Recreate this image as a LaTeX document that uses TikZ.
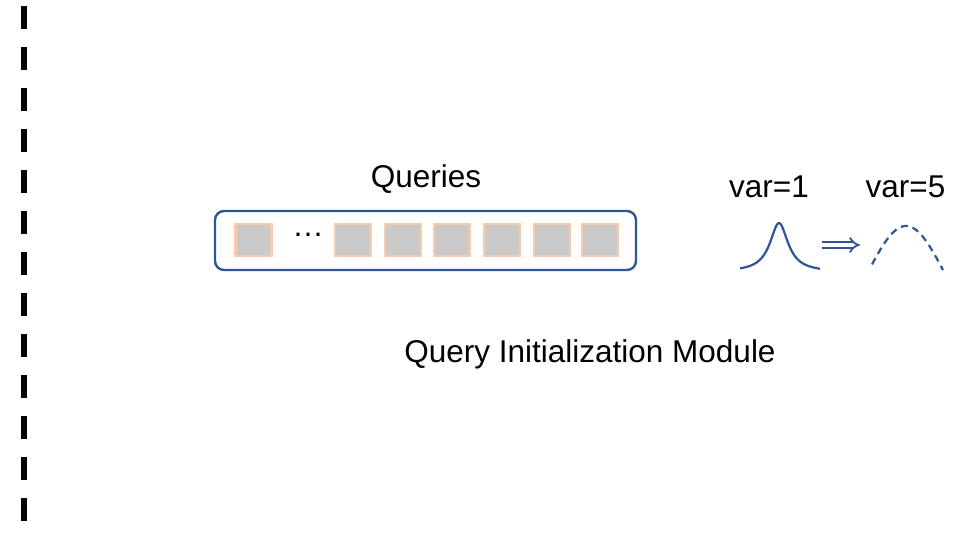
\documentclass[tikz,border=0pt]{standalone}
\usepackage{fontspec}
\setmainfont{Liberation Sans}
\usepackage{xcolor}
\usepackage{tikz}
\usetikzlibrary{arrows.meta,positioning}
\definecolor{qblue}{HTML}{2F5597}
\definecolor{qpeach}{HTML}{F8CBAD}
\definecolor{qgray}{HTML}{C9C9C9}
\tikzset{
  q label/.style={
    font=\fontsize{31.5}{38}\selectfont,
    inner sep=0pt,
    anchor=base,
  },
  q slot/.style={
    rectangle,
    minimum width=36pt,
    minimum height=32pt,
    line width=2.4pt,
    draw=qpeach,
    fill=qgray,
    inner sep=0pt,
  },
  q frame/.style={
    rectangle,
    rounded corners=9pt,
    line width=2.4pt,
    draw=qblue,
  },
  q curve/.style={qblue, line width=2.2pt},
}

\begin{document}
\begin{tikzpicture}[x=1pt,y=-1pt]
  \useasboundingbox (0,0) rectangle (964,534);

  % dashed divider
  \draw[line width=6pt, dash pattern=on 23pt off 18pt] (24,6) -- (24,534);

  % query slots
  \node[q frame, minimum width=421pt, minimum height=59pt] (frame) at (425.5,240.5) {};
  \node[q slot] (s0) at (253.5,240) {};
  \node[q label] (dots) at (308,237) {…};
  \foreach \i/\x in {1/353,2/403,3/452,4/502,5/552,6/600}
    \node[q slot] (s\i) at (\x,240) {};
  \node[q label] (queries) at (426,188) {Queries};

  \node[q label] (module) at (590,363) {Query Initialization Module};

  % variance
  \node[q label] (var1) at (769,198) {var=1};
  \node[q label] (var5) at (905.5,198) {var=5};
  \draw[q curve] plot[domain=-39:41,samples=80,smooth]
    ({779+\x},{272-49/(1+(\x/11)^2)});
  \draw[q curve, dash pattern=on 7pt off 5pt] plot[domain=-34:37,samples=60,smooth]
    ({906+\x},{270-44*cos(\x/37*90)});
  \coordinate (narrow) at (822,245);
  \coordinate (wide) at (860,245);
  \draw[qblue, line width=1.8pt, double, double distance=3.5pt, -{Implies}] (narrow) -- (wide);
\end{tikzpicture}
\end{document}
